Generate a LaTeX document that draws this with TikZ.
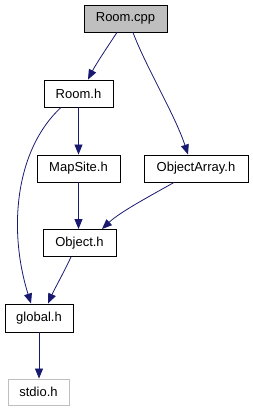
\documentclass[tikz,border=0pt]{standalone}
\usepackage{fontspec}
\setmainfont{Liberation Sans}
\usetikzlibrary{arrows.meta}
\definecolor{edgecol}{HTML}{191970}
\definecolor{boxgray}{HTML}{BFBFBF}
\begin{document}
\begin{tikzpicture}[x=1pt,y=-1pt,
  filebox/.style={draw=black,line width=0.9pt,fill=white,inner sep=0pt,minimum height=27pt,font=\fontsize{13}{15}\selectfont},
  dep/.style={draw=edgecol,line width=0.8pt,-{Triangle[length=10pt,width=8pt]},edgecol}]
\useasboundingbox (0,0) rectangle (253,411);
\node[filebox,fill=boxgray,minimum width=83pt] (roomcpp) at (125.5,18.5) {Room.cpp};
\node[filebox,minimum width=69pt] (roomh) at (78.5,93.5) {Room.h};
\node[filebox,minimum width=83pt] (mapsite) at (78.5,168.5) {MapSite.h};
\node[filebox,minimum width=104pt] (objarr) at (196,168.5) {ObjectArray.h};
\node[filebox,minimum width=73pt] (object) at (79.5,243) {Object.h};
\node[filebox,minimum width=68pt,minimum height=28pt] (global) at (39,318) {global.h};
\node[filebox,draw=boxgray,minimum width=61pt,minimum height=26pt] (stdio) at (38.5,392) {stdio.h};
% edges
\draw[dep] ([xshift=-8.5pt]roomcpp.south) .. controls (108,46) and (96,64) .. ([xshift=9.5pt]roomh.north);
\draw[dep] ([xshift=7.5pt]roomcpp.south) .. controls (145,65) and (175,115) .. ([xshift=-8pt]objarr.north);
\draw[dep] (roomh.south) -- (mapsite.north);
\draw[dep] ([xshift=-17.5pt]roomh.south) .. controls (15,150) and (8,230) .. ([xshift=-8pt]global.north);
\draw[dep] (mapsite.south) -- ([xshift=-1pt]object.north);
\draw[dep] ([xshift=-22pt]objarr.south) .. controls (150,196) and (120,212) .. ([xshift=22.5pt]object.north);
\draw[dep] ([xshift=-8.5pt]object.south) .. controls (64,272) and (54,290) .. ([xshift=9pt]global.north);
\draw[dep] (global.south) -- ([xshift=0.5pt]stdio.north);
\end{tikzpicture}
\end{document}
